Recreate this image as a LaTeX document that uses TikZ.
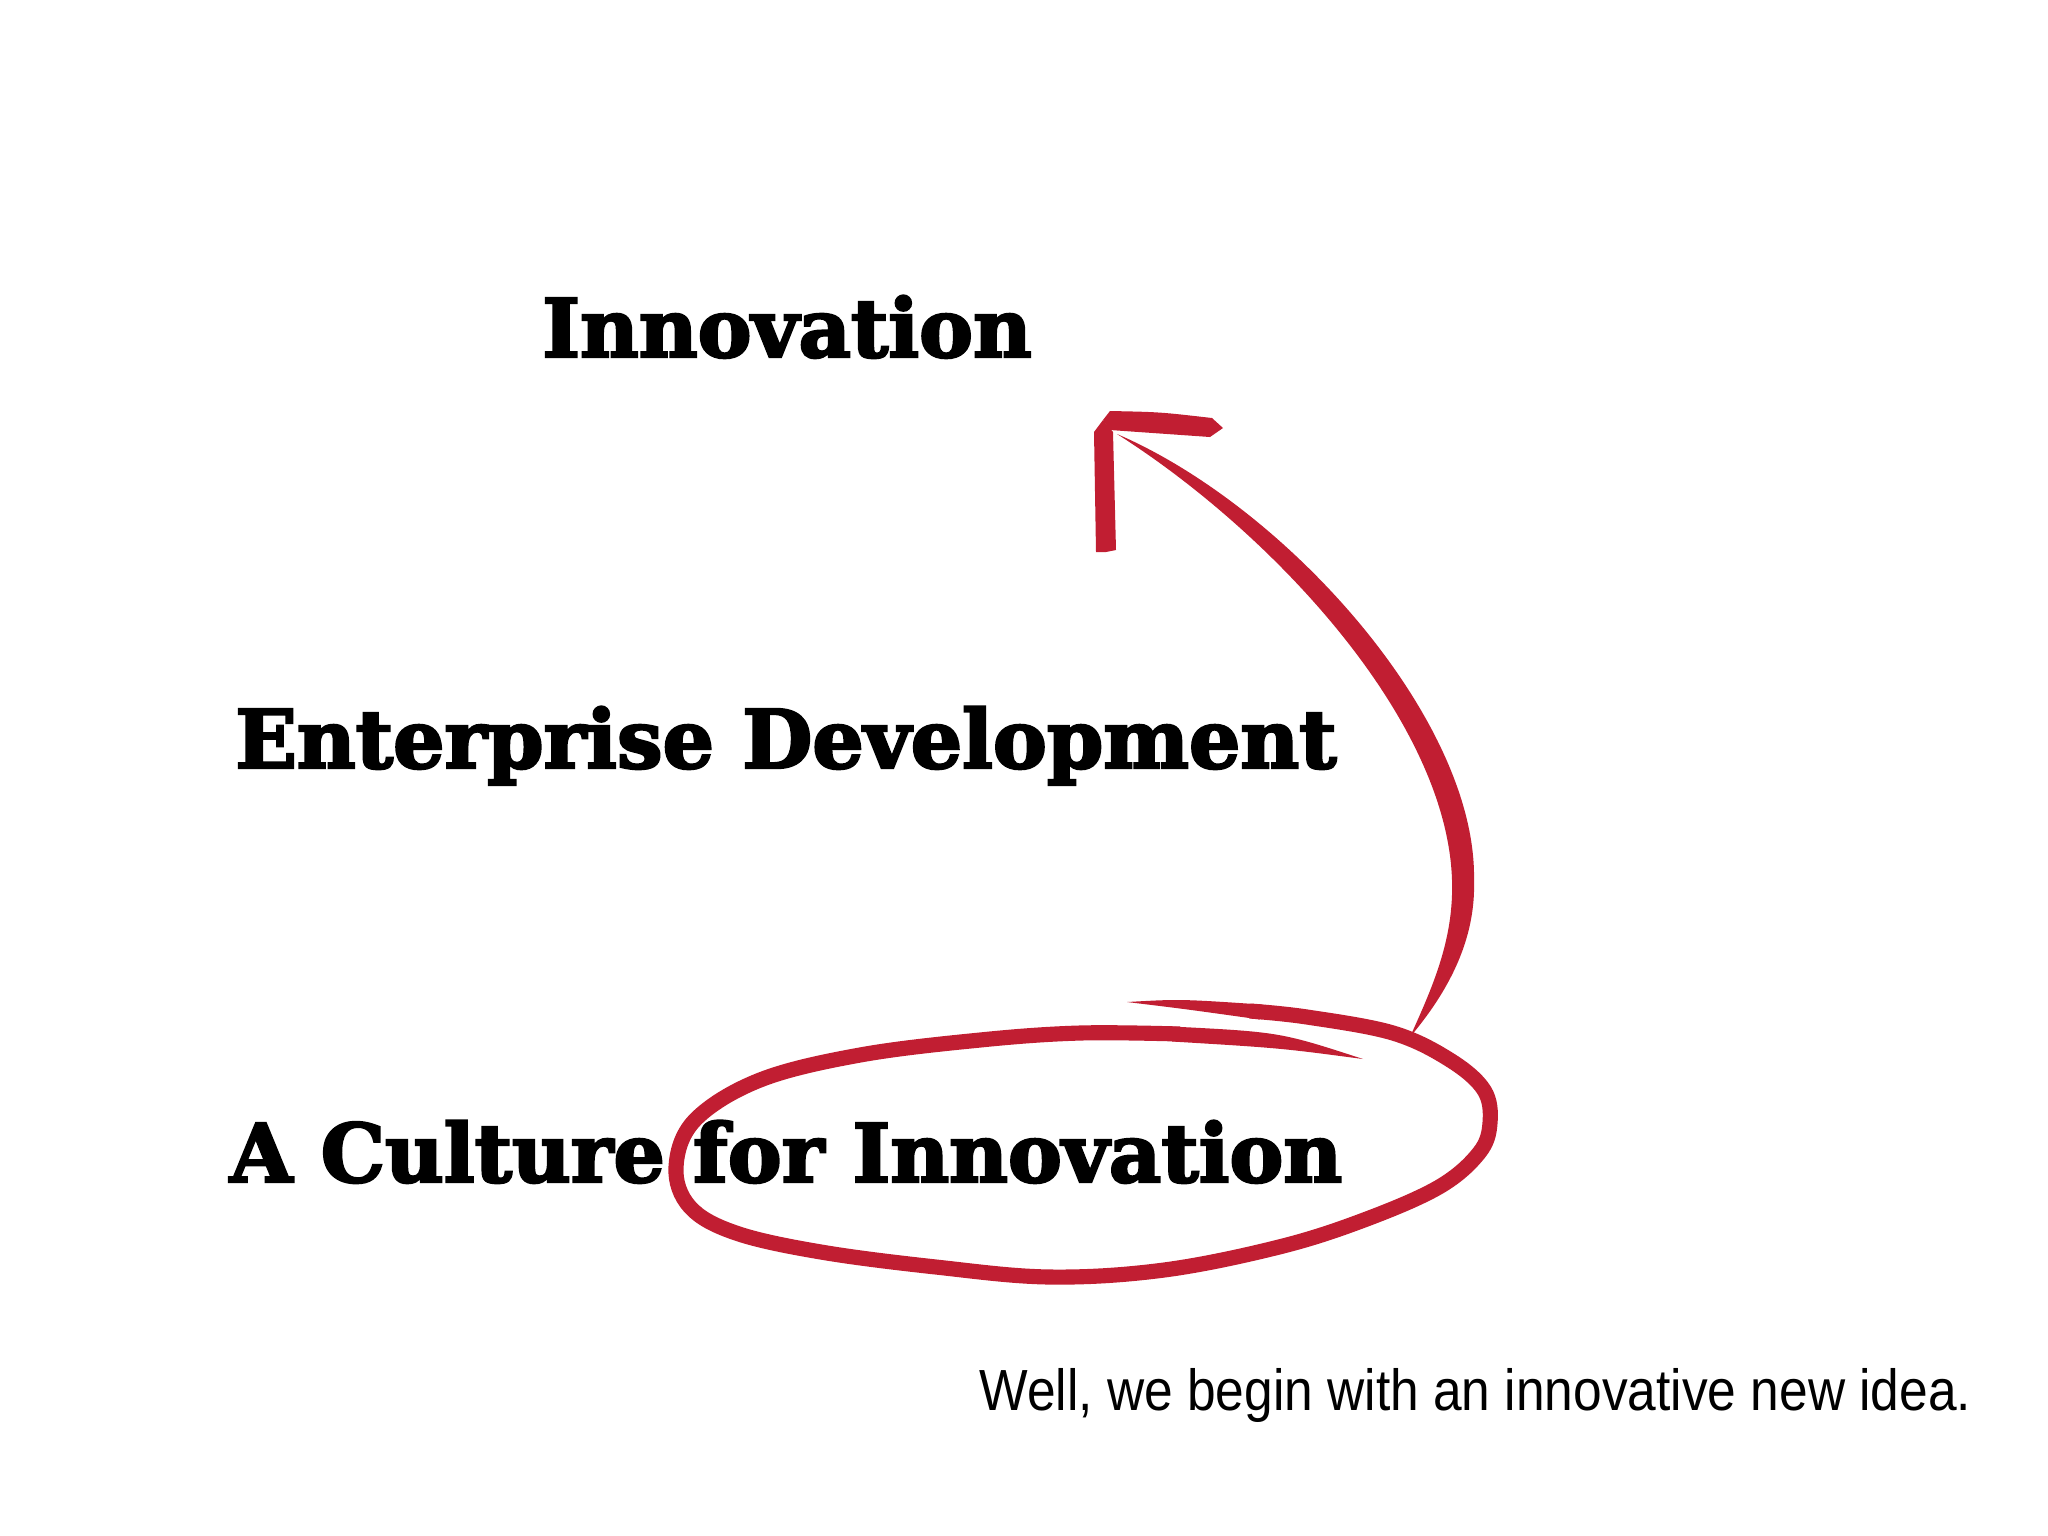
\documentclass[tikz,border=0pt]{standalone}
\usepackage{xcolor}
\usepackage{fontspec}
\usepackage{tikz}
\usetikzlibrary{calc}
\usetikzlibrary{arrows.meta}
\newfontfamily\heavyfont[FakeBold=3]{DejaVu Serif Bold}
\newfontfamily\notefont[FakeStretch=0.887]{Liberation Sans}
\definecolor{penred}{RGB}{193,30,50}
\tikzset{>=latex}
\tikzstyle{title} = [draw=none, inner sep = 0, anchor=base, font=\heavyfont\fontsize{23}{27}\selectfont]
\tikzstyle{note} = [draw=none, inner sep = 0, anchor=base east, font=\notefont\fontsize{16.5}{20}\selectfont]
\tikzstyle{redpen} = [draw=penred, line width=4.3pt, line cap=butt, line join=round]
\tikzstyle{ink} = [fill=penred, draw=none]

\begin{document}
\begin{tikzpicture}[x=0.01cm, y=-0.01cm]
\useasboundingbox (0,0) rectangle (2048,1535);
\node [title] (inno) at (787, 357) {Innovation};
\node [title] (ent) at (786, 768) {Enterprise Development};
\node [title] (cult) at (786, 1182) {A Culture for Innovation};
\node [note] (idea) at (1972, 1410) {Well, we begin with an innovative new idea.};

\coordinate (loopstart) at (1127, 1002);
\coordinate (loopend) at (1363, 1059);
\coordinate (stemfoot) at (1410, 1037);
\coordinate (stemtop) at (1117, 434);
\coordinate (tip) at (1103, 420);
\coordinate (barbh) at (1223, 428);
\coordinate (barbv) at (1106, 552);

% loop round the bottom line
\draw [redpen] plot [smooth, tension=0.6] coordinates {(1250,1011) (1307,1017) (1393,1033) (1450,1060) (1484,1090) (1490,1123) (1479,1153) (1439,1187) (1364,1220) (1279,1247) (1164,1270) (1050,1277) (936,1267) (821,1252) (736,1233) (690,1207) (676,1167) (695,1120) (760,1080) (860,1055) (980,1040) (1080,1033) (1180,1034)};
\fill [ink] (loopstart) .. controls (1180,999) .. (1262,1004.5) -- (1260,1019.5) .. controls (1185,1009) .. (loopstart) -- cycle;
\fill [ink] (1172,1026.5) .. controls (1280,1032) .. (loopend) .. controls (1280,1048) .. (1172,1041.5) -- cycle;

% stem up to the top line
\fill [ink] (stemfoot) .. controls (1448,992) and (1476,940) .. (1474,880) .. controls (1477,720) and (1287,507) .. (stemtop) .. controls (1273,533) and (1447,720) .. (1452,880) .. controls (1454,940) and (1432,988) .. (stemfoot) -- cycle;
\fill [ink] (tip) -- (1110,411) .. controls (1160,412) .. (1212,418) -- (barbh) -- (1210,437) .. controls (1160,433) .. (1110,430) -- cycle;
\fill [ink] (tip) -- (1113,432) -- (1116,550) -- (barbv) -- (1096,552) -- (1094,432) -- cycle;
\end{tikzpicture}
\end{document}
